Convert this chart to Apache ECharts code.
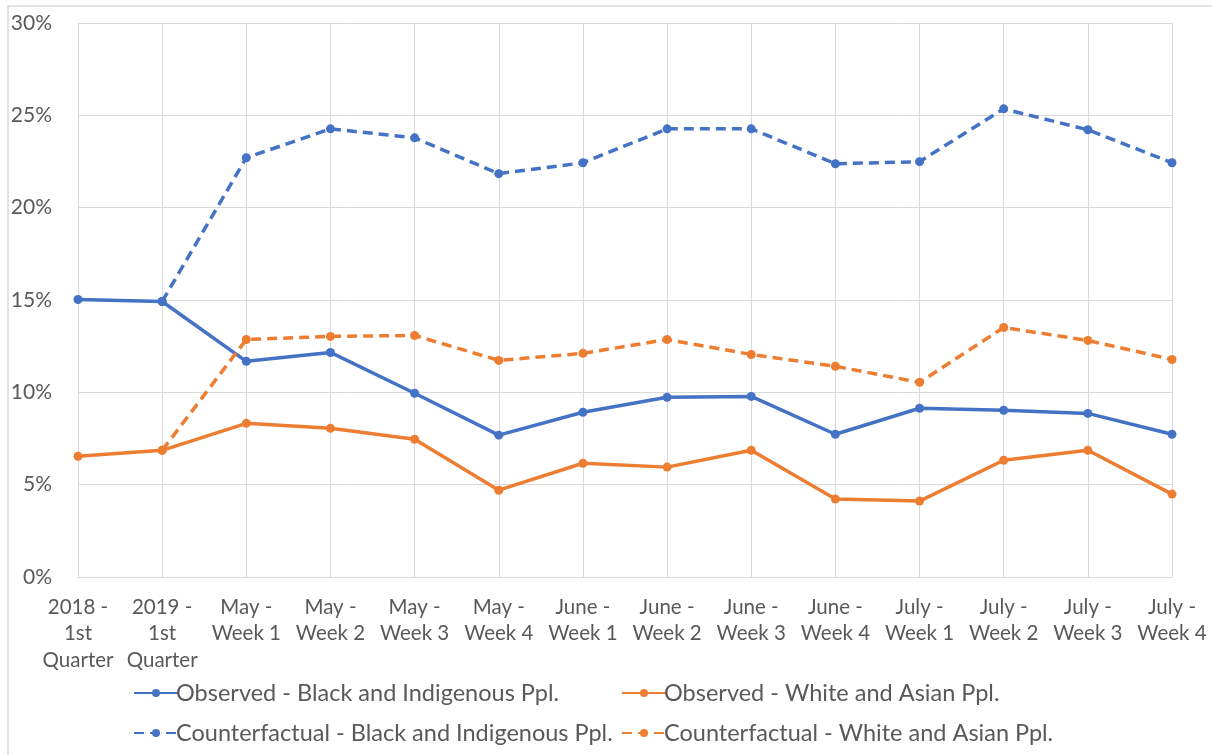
<!DOCTYPE html>
<html>
<head>
<meta charset="utf-8">
<script src="https://cdn.jsdelivr.net/npm/echarts@6/dist/echarts.min.js"></script>
<style>
  html, body { margin: 0; padding: 0; background: #ffffff; }
  #chart { width: 1212px; height: 755px; }
</style>
</head>
<body>
<div id="chart"></div>
<script>
// Period labels along the x axis
const categories = [
  '2018 -\n1st\nQuarter', '2019 -\n1st\nQuarter',
  'May -\nWeek 1', 'May -\nWeek 2', 'May -\nWeek 3', 'May -\nWeek 4',
  'June -\nWeek 1', 'June -\nWeek 2', 'June -\nWeek 3', 'June -\nWeek 4',
  'July -\nWeek 1', 'July -\nWeek 2', 'July -\nWeek 3', 'July -\nWeek 4'
];

// Rates in percent
const observedBlack = [15.03, 14.92, 11.68, 12.16, 9.95, 7.68, 8.92, 9.73, 9.78, 7.73, 9.14, 9.03, 8.86, 7.73];
const observedWhite = [6.54, 6.86, 8.32, 8.05, 7.46, 4.70, 6.16, 5.95, 6.86, 4.22, 4.11, 6.32, 6.86, 4.49];
const counterBlack = [null, 14.92, 22.70, 24.27, 23.78, 21.84, 22.43, 24.27, 24.27, 22.38, 22.49, 25.35, 24.22, 22.43];
const counterWhite = [null, 6.86, 12.86, 13.03, 13.08, 11.73, 12.11, 12.86, 12.05, 11.41, 10.54, 13.51, 12.81, 11.78];

const seriesNames = [
  'Observed - Black and Indigenous Ppl.',
  'Observed - White and Asian Ppl.',
  'Counterfactual - Black and Indigenous Ppl.',
  'Counterfactual - White and Asian Ppl.'
];

const BLUE = '#4472C4';
const ORANGE = '#ED7D31';
const TEXT = '#595959';
const FONT = 'Lato, "Open Sans", sans-serif';

function lineSeries(name, data, color, dashed) {
  return {
    name: name,
    type: 'line',
    data: data,
    color: color,
    symbol: 'circle',
    symbolSize: 9,
    showSymbol: true,
    connectNulls: false,
    animation: false,
    lineStyle: { width: 3.5, color: color, type: dashed ? [10, 6] : 'solid' },
    itemStyle: { color: color }
  };
}

const chart = echarts.init(document.getElementById('chart'), null, { renderer: 'canvas' });

const legendCommon = {
  orient: 'vertical',
  itemWidth: 44,
  itemHeight: 10,
  itemGap: 16,
  textStyle: { color: TEXT, fontSize: 23.5, fontFamily: FONT, padding: [0, 0, 0, -7] },
  selectedMode: false
};

chart.setOption({
  backgroundColor: '#ffffff',
  animation: false,
  graphic: [{
    type: 'rect',
    shape: { x: 8, y: 6, width: 1260, height: 800 },
    style: { fill: 'none', stroke: '#d9d9d9', lineWidth: 1.5 },
    silent: true
  }],
  grid: { left: 78, right: 40, top: 23, bottom: 178, containLabel: false },
  legend: [
    Object.assign({}, legendCommon, { left: 128, top: 676, data: [seriesNames[0], seriesNames[2]] }),
    Object.assign({}, legendCommon, { left: 616, top: 676, data: [seriesNames[1], seriesNames[3]] })
  ],
  xAxis: {
    type: 'category',
    data: categories,
    boundaryGap: false,
    axisLine: { show: true, lineStyle: { color: '#d9d9d9', width: 1 } },
    axisTick: { show: false },
    splitLine: { show: true, lineStyle: { color: '#d9d9d9', width: 1 } },
    axisLabel: {
      color: TEXT, fontSize: 20.5, fontFamily: FONT, lineHeight: 26.5,
      interval: 0, margin: 17, align: 'center'
    }
  },
  yAxis: {
    type: 'value',
    min: 0, max: 30, interval: 5,
    axisLine: { show: false },
    axisTick: { show: false },
    splitLine: { show: true, lineStyle: { color: '#d9d9d9', width: 1 } },
    axisLabel: {
      color: TEXT, fontSize: 21, fontFamily: FONT, margin: 26,
      formatter: v => v + '%'
    }
  },
  series: [
    lineSeries(seriesNames[0], observedBlack, BLUE, false),
    lineSeries(seriesNames[1], observedWhite, ORANGE, false),
    lineSeries(seriesNames[2], counterBlack, BLUE, true),
    lineSeries(seriesNames[3], counterWhite, ORANGE, true)
  ]
});
</script>
</body>
</html>
